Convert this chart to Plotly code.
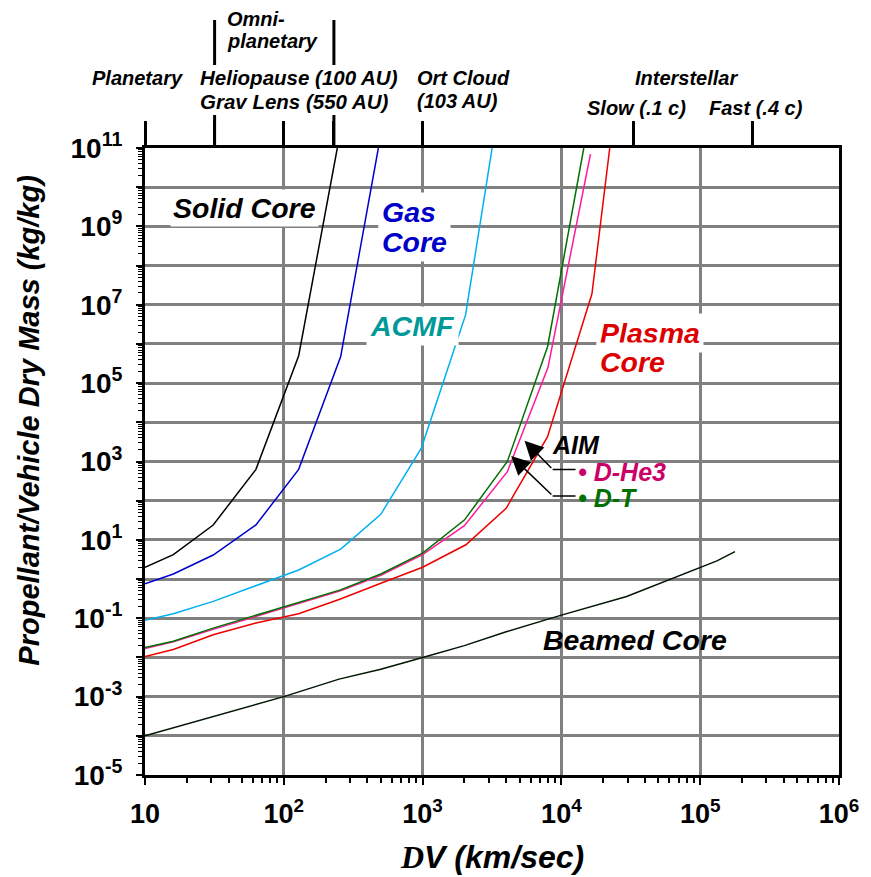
import plotly.graph_objects as go

# ---------------- data ----------------
solid_x = [10, 16, 31, 63, 128, 243]
solid_y = [2.0, 4.2, 24, 630, 5e5, 1e11]

gas_x = [10, 16, 31, 63, 128, 257, 480]
gas_y = [0.76, 1.35, 4.1, 24, 630, 4.8e5, 1e11]

acmf_x = [10, 16, 31, 63, 128, 257, 500, 980, 2040, 3170]
acmf_y = [0.089, 0.13, 0.27, 0.67, 1.7, 5.8, 45, 2200, 5.5e6, 1e11]

dt_x = [10, 16, 31, 63, 128, 256, 500, 1000, 2000, 4080, 7950, 14500]
dt_y = [0.018, 0.026, 0.056, 0.12, 0.25, 0.53, 1.35, 4.6, 32, 1000, 8.5e5, 1e11]

dhe3_x = [10, 16, 31, 63, 128, 256, 500, 1000, 2000, 4080, 8000, 16200]
dhe3_y = [0.017, 0.025, 0.052, 0.11, 0.23, 0.5, 1.25, 4.2, 23, 550, 2.5e5, 7e10]

plasma_x = [10, 16, 31, 63, 128, 256, 500, 1000, 2050, 4000, 7950, 16600, 22300]
plasma_y = [0.0105, 0.016, 0.038, 0.076, 0.13, 0.31, 0.78, 2.0, 7.5, 64, 4300, 1.9e7, 1e11]

beamed_x = [10, 16, 32, 63, 100, 250, 500, 1000, 2000, 4000, 10000, 29500, 100000, 132000, 178000]
beamed_y = [1e-4, 1.6e-4, 3.2e-4, 6.4e-4, 1e-3, 2.8e-3, 5e-3, 0.01, 0.02, 0.045, 0.12, 0.36, 2.0, 2.9, 5.0]

x_tick_vals = [10, 100, 1000, 10000, 100000, 1000000]
x_tick_text = ["10", "10<sup>2</sup>", "10<sup>3</sup>", "10<sup>4</sup>", "10<sup>5</sup>", "10<sup>6</sup>"]
y_exponents = list(range(-5, 12))

# mission-class markers on the top axis (km/sec)
top_tick_vals = [10, 31.6, 100, 229, 1000, 33000, 240000]

FONT = "Liberation Sans, Arial, sans-serif"

# the page body has an 8px margin: shrink the figure so the plot lands where the reference has it
OFF = 8
W, H = 871 - OFF, 877 - OFF
L, T = 145 - OFF, 148 - OFF
R = W - (843 - OFF)
B = H - (775 - OFF)

fig = go.Figure()

def add_line(x, y, color, name, width=1.5):
    fig.add_trace(go.Scatter(x=x, y=y, mode="lines", name=name,
                             line=dict(color=color, width=width), showlegend=False))

add_line(solid_x, solid_y, "#000000", "Solid Core")
add_line(gas_x, gas_y, "#0000cc", "Gas Core")
add_line(acmf_x, acmf_y, "#00b0f0", "ACMF")
add_line(plasma_x, plasma_y, "#ee0000", "Plasma Core")
add_line(dhe3_x, dhe3_y, "#ff1a9c", "AIM D-He3")
add_line(dt_x, dt_y, "#007000", "AIM D-T")
add_line(beamed_x, beamed_y, "#001400", "Beamed Core")

# dummy trace for top axis
fig.add_trace(go.Scatter(x=[10], y=[1], xaxis="x2", mode="markers",
                         marker=dict(opacity=0), showlegend=False, hoverinfo="skip"))

minor_vals_x = [m * 10 ** e for e in range(1, 6) for m in range(2, 10)]
minor_vals_y = [m * 10.0 ** e for e in range(-5, 11) for m in range(2, 10)]

fig.update_layout(
    width=W, height=H,
    margin=dict(l=L, r=R, t=T, b=B),
    paper_bgcolor="white", plot_bgcolor="white",
    font=dict(family=FONT, color="black"),
    xaxis=dict(
        type="log", range=[1, 6],
        tickmode="array", tickvals=x_tick_vals,
        ticktext=["<b>%s</b>" % t for t in x_tick_text],
        tickfont=dict(size=27, family=FONT, color="black"),
        ticks="outside", ticklen=7, tickwidth=2, tickcolor="black",
        ticklabelstandoff=6,
        minor=dict(tickmode="array", tickvals=minor_vals_x, ticks="outside",
                   ticklen=5, tickwidth=1.5, tickcolor="black", showgrid=False),
        showgrid=True, gridcolor="#808080", gridwidth=2.5,
        showline=True, linecolor="black", linewidth=3, mirror=True,
        zeroline=False,
    ),
    xaxis2=dict(
        type="log", range=[1, 6], overlaying="x", side="top",
        tickmode="array", tickvals=top_tick_vals, showticklabels=False,
        ticks="outside", ticklen=26, tickwidth=3, tickcolor="black",
        showgrid=False, showline=False, zeroline=False,
    ),
    yaxis=dict(
        type="log", range=[-5, 11],
        tickmode="array", tickvals=[10.0 ** e for e in y_exponents],
        ticktext=[("<b>10<sup>%d</sup></b>" % e) if e % 2 != 0 else " " for e in y_exponents],
        tickfont=dict(size=28, family=FONT, color="black"),
        ticks="outside", ticklen=6, tickwidth=2, tickcolor="black",
        ticklabelstandoff=8,
        minor=dict(tickmode="array", tickvals=minor_vals_y, ticks="outside",
                   ticklen=4, tickwidth=1, tickcolor="black", showgrid=False),
        showgrid=True, gridcolor="#808080", gridwidth=2.5,
        showline=True, linecolor="black", linewidth=3, mirror=True,
        zeroline=False,
    ),
)

def px2paper_x(px):
    return (px - 145) / 698.0

def px2paper_y(py):
    return (775 - py) / 627.0

# tall top markers (Omni-planetary bounds)
for px in [215, 335]:
    for (a, b) in [(20, 65), (115, 148)]:
        fig.add_shape(type="line", xref="paper", yref="paper",
                      x0=px2paper_x(px), x1=px2paper_x(px),
                      y0=px2paper_y(a), y1=px2paper_y(b),
                      line=dict(color="black", width=3))

# white boxes masking gridlines
for (x0, x1, y0, y1) in [(577, 712, 425, 512), (543, 762, 621, 662)]:
    fig.add_shape(type="rect", xref="paper", yref="paper", layer="between",
                  x0=px2paper_x(x0), x1=px2paper_x(x1),
                  y0=px2paper_y(y1), y1=px2paper_y(y0),
                  fillcolor="white", line=dict(width=0))

# elbow lines of AIM arrows
for py in [469.5, 496]:
    fig.add_shape(type="line", xref="paper", yref="paper",
                  x0=px2paper_x(555), x1=px2paper_x(578),
                  y0=px2paper_y(py), y1=px2paper_y(py),
                  line=dict(color="black", width=1.5))

def note(text, px, py, size, color="black", xanchor="center", bg=None, pad=1):
    fig.add_annotation(text="<b><i>%s</i></b>" % text, xref="paper", yref="paper",
                       x=px2paper_x(px), y=px2paper_y(py), showarrow=False,
                       xanchor=xanchor, yanchor="middle",
                       font=dict(size=size, color=color, family=FONT),
                       bgcolor=bg, borderpad=pad)

# top labels
note("Planetary", 137, 78, 20)
note("Heliopause (100 AU)", 198, 78, 20.5, xanchor="left")
note("Grav Lens (550 AU)", 198, 101, 20.5, xanchor="left")
note("Omni-", 225, 19, 20, xanchor="left")
note("planetary", 225, 41, 20, xanchor="left")
note("Ort Cloud", 417, 78, 20, xanchor="left")
note("(103 AU)", 417, 101, 20, xanchor="left")
note("Interstellar", 690, 78, 20)
note("Slow (.1 c)", 639, 108, 20)
note("Fast (.4 c)", 760, 108, 20)

# in-plot labels
note("Solid Core", 245, 208, 28.5, bg="white", pad=2)
note("Gas", 379, 212, 28.5, color="#0000c8", xanchor="left", bg="white", pad=3)
note("Core", 379, 242, 28.5, color="#0000c8", xanchor="left", bg="white", pad=3)
note("ACMF", 367, 326, 28.5, color="#009999", xanchor="left", bg="white", pad=3)
note("Plasma", 599, 333, 28.5, color="#dd0000", xanchor="left", bg="white", pad=3)
note("Core", 599, 362, 28.5, color="#dd0000", xanchor="left", bg="white", pad=3)
note("AIM", 578, 445, 25)
note("\u2022 D-He3", 578, 472, 25, color="#cc0066", xanchor="left")
note("\u2022 D-T", 578, 498, 25, color="#007000", xanchor="left")
note("Beamed Core", 638, 640, 28.5)

# arrows pointing at the AIM curves
for (tx, ty, ex, ey) in [(526.7, 440.7, 555, 469.5), (513.3, 456, 555, 496)]:
    fig.add_annotation(text="", xref="paper", yref="paper",
                       x=px2paper_x(tx), y=px2paper_y(ty),
                       ax=ex - tx, ay=ey - ty, showarrow=True,
                       arrowhead=2, arrowsize=2.5, arrowwidth=1.5, arrowcolor="black")

# axis titles
fig.add_annotation(text="<b><i>Propellant/Vehicle Dry Mass (kg/kg)</i></b>",
                   xref="paper", yref="paper", x=px2paper_x(28), y=px2paper_y(421),
                   textangle=-90, showarrow=False, xanchor="center", yanchor="middle",
                   font=dict(size=29, family=FONT, color="black"))
fig.add_annotation(text="<b><i><span style=\"font-family:'Liberation Serif'\">D</span>V (km/sec)</i></b>",
                   xref="paper", yref="paper", x=px2paper_x(494), y=px2paper_y(857),
                   showarrow=False, xanchor="center", yanchor="middle",
                   font=dict(size=32, family=FONT, color="black"))

fig.write_html("out.html")
